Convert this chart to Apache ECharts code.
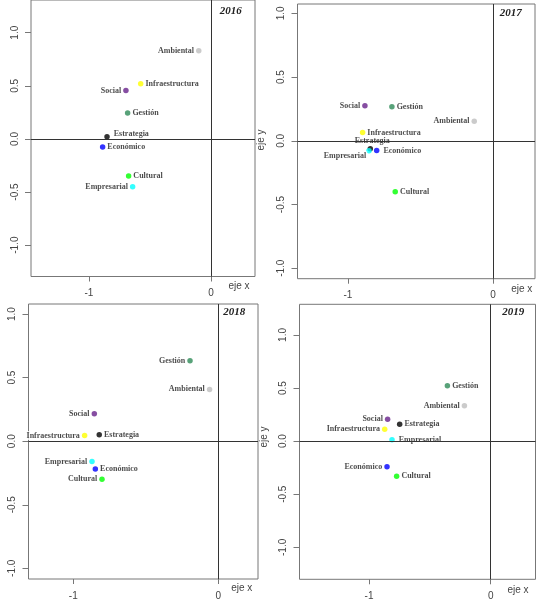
<!DOCTYPE html>
<html><head><meta charset="utf-8">
<script src="https://cdn.jsdelivr.net/npm/echarts@6/dist/echarts.min.js"></script>
<style>html,body{margin:0;padding:0;background:#fff}#c{width:539px;height:603px}</style>
</head><body><div id="c"></div><script>
// ---- data ----
const categories = ['Ambiental','Infraestructura','Social','Gestión','Estrategia','Económico','Cultural','Empresarial'];
const years = ['2016','2017','2018','2019'];
const x2016 = [-0.10, -0.576, -0.697, -0.683, -0.852, -0.888, -0.675, -0.642];
const y2016 = [0.83, 0.52, 0.456, 0.245, 0.02, -0.075, -0.35, -0.45];
const x2017 = [-0.129, -0.899, -0.883, -0.697, -0.846, -0.802, -0.674, -0.855];
const y2017 = [0.154, 0.065, 0.275, 0.267, -0.063, -0.076, -0.40, -0.078];
const x2018 = [-0.06, -0.922, -0.855, -0.195, -0.821, -0.848, -0.802, -0.871];
const y2018 = [0.407, 0.045, 0.215, 0.633, 0.05, -0.218, -0.30, -0.16];
const x2019 = [-0.216, -0.871, -0.847, -0.356, -0.748, -0.852, -0.773, -0.811];
const y2019 = [0.333, 0.113, 0.207, 0.521, 0.16, -0.242, -0.33, 0.013];
const xTicks = [-1, 0];
const yTicks = [-1, -0.5, 0, 0.5, 1];
const xTitle = 'eje x';
const yTitle = 'eje y';

// ---- styles ----
const pointColors = ['#bebebe','#ffff00','#68228b','#2e8b57','#000000','#0000ff','#00ff00','#00ffff'];
const labelSides = {
  '2016': ['left','right','left','right','right','right','right','left'],
  '2017': ['left','right','left','right','top','right','right','left'],
  '2018': ['left','left','left','left','right','right','left','left'],
  '2019': ['left','left','left','right','right','left','right','right']
};
const labelShift = {
  '2016': {'Estrategia':[2,-3]},
  '2017': {'Estrategia':[2,0], 'Económico':[2,0], 'Empresarial':[2,5]},
  '2018': {},
  '2019': {'Empresarial':[2,0]}
};
const panels = [
  {left:31, top:0, width:224, height:276.5, xr:[-1.475,0.361], yr:[-1.295,1.308], yearPos:[230.7,10.7], exPos:[239,286], eyPos:null},
  {left:297.5, top:4, width:237.5, height:274.7, xr:[-1.348,0.29], yr:[-1.082,1.073], yearPos:[510.7,13.3], exPos:[521.7,289], eyPos:[261,140]},
  {left:28.5, top:304, width:229.5, height:275, xr:[-1.309,0.274], yr:[-1.084,1.079], yearPos:[234.3,311.7], exPos:[241.7,588], eyPos:null},
  {left:299.5, top:304.3, width:236, height:275, xr:[-1.571,0.368], yr:[-1.301,1.289], yearPos:[513.3,311.7], exPos:[518,590], eyPos:[264,437]}
];
const xsByYear = {'2016':x2016,'2017':x2017,'2018':x2018,'2019':x2019};
const ysByYear = {'2016':y2016,'2017':y2017,'2018':y2018,'2019':y2019};

const grid = [], xAxis = [], yAxis = [], series = [], graphic = [];
const tickLabelStyle = {fontFamily:'Liberation Sans, Arial, sans-serif', fontSize:10, color:'#444'};
panels.forEach((p, i) => {
  const yr = years[i];
  grid.push({left:p.left, top:p.top, width:p.width, height:p.height, show:true, borderColor:'#777', borderWidth:1, backgroundColor:'transparent'});
  xAxis.push({type:'value', gridIndex:i, min:p.xr[0], max:p.xr[1], position:'bottom',
    axisLine:{show:false, onZero:false}, splitLine:{show:false},
    axisTick:{show:true, inside:false, length:5, customValues:xTicks, lineStyle:{color:'#777'}},
    axisLabel:Object.assign({show:true, margin:12, customValues:xTicks, formatter:v=>String(v)}, tickLabelStyle)});
  yAxis.push({type:'value', gridIndex:i, min:p.yr[0], max:p.yr[1], position:'left',
    axisLine:{show:false, onZero:false}, splitLine:{show:false},
    axisTick:{show:true, inside:false, length:6, customValues:yTicks, lineStyle:{color:'#777'}},
    axisLabel:Object.assign({show:true, margin:11, rotate:90, customValues:yTicks, formatter:v=>v.toFixed(1)}, tickLabelStyle)});
  const xs = xsByYear[yr], ys = ysByYear[yr];
  series.push({type:'scatter', xAxisIndex:i, yAxisIndex:i, z:1, data:[], silent:true,
    markLine:{silent:true, animation:false, symbol:['none','none'], label:{show:false},
      lineStyle:{color:'#333', width:1, type:'solid'}, emphasis:{disabled:true},
      data:[{xAxis:0},{yAxis:0}]}});
  series.push({type:'scatter', xAxisIndex:i, yAxisIndex:i, z:3, symbol:'circle', symbolSize:5.5,
    emphasis:{disabled:true},
    label:{show:true, formatter:'{b}', fontFamily:'Liberation Serif, Times New Roman, serif', fontWeight:'bold',
      fontSize:8, color:'#1a1a1a', backgroundColor:'#fff', padding:[0,1], lineHeight:9, distance:1},
    data: xs.map((x, k) => {
      const name = categories[k];
      const lab = {position: labelSides[yr][k]};
      if (labelShift[yr][name]) lab.offset = labelShift[yr][name];
      return {name, value:[x, ys[k]], itemStyle:{color:pointColors[k]}, label:lab};
    })});
  graphic.push({type:'text', x:p.yearPos[0], y:p.yearPos[1], z:100,
    style:{text:yr, font:'italic bold 11px "Liberation Serif", serif', fill:'#222', align:'center', verticalAlign:'middle'}});
  graphic.push({type:'text', x:p.exPos[0], y:p.exPos[1], z:100,
    style:{text:xTitle, font:'10px "Liberation Sans", Arial, sans-serif', fill:'#444', align:'center', verticalAlign:'middle'}});
  if (p.eyPos) graphic.push({type:'text', x:p.eyPos[0], y:p.eyPos[1], rotation:Math.PI/2, z:100,
    style:{text:yTitle, font:'10px "Liberation Sans", Arial, sans-serif', fill:'#444', align:'center', verticalAlign:'middle'}});
});

const chart = echarts.init(document.getElementById('c'), null, {renderer:'canvas'});
chart.setOption({animation:false, backgroundColor:'#fff', grid, xAxis, yAxis, series, graphic});
</script></body></html>
